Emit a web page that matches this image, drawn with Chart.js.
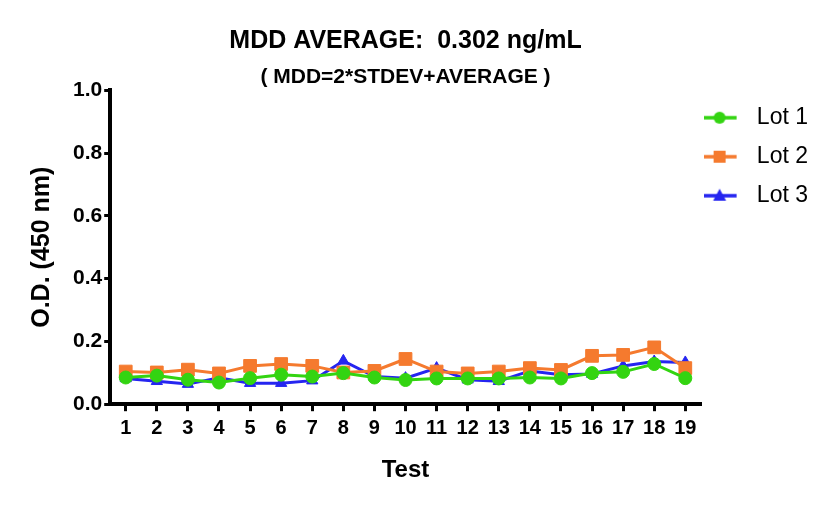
<!DOCTYPE html>
<html>
<head>
<meta charset="utf-8">
<script src="https://cdn.jsdelivr.net/npm/chart.js@4.4.1/dist/chart.umd.min.js"></script>
<style>
  html, body { margin: 0; padding: 0; background: #fff; }
  #wrap { width: 837px; height: 507px; }
</style>
</head>
<body>
<div id="wrap"><canvas id="chart"></canvas></div>
<script>
// x 축 : test 번호
const tests = ['1', '2', '3', '4', '5', '6', '7', '8', '9', '10', '11', '12', '13', '14', '15', '16', '17', '18', '19'];
// O.D. 값
const lot1 = [0.085, 0.091, 0.078, 0.069, 0.083, 0.094, 0.088, 0.099, 0.085, 0.077, 0.082, 0.082, 0.082, 0.085, 0.082, 0.099, 0.103, 0.128, 0.083];
const lot2 = [0.104, 0.101, 0.110, 0.098, 0.122, 0.128, 0.122, 0.101, 0.106, 0.144, 0.104, 0.098, 0.104, 0.115, 0.109, 0.154, 0.157, 0.181, 0.115];
const lot3 = [0.082, 0.073, 0.064, 0.084, 0.067, 0.067, 0.075, 0.138, 0.088, 0.083, 0.115, 0.078, 0.073, 0.106, 0.094, 0.096, 0.122, 0.136, 0.133];
const yTicks = [0, 0.2, 0.4, 0.6, 0.8, 1.0];

const green = '#33d411';
const orange = '#f57a2e';
const blue = '#2525f0';

Chart.defaults.font.family = '"Liberation Sans", Arial, sans-serif';
Chart.defaults.color = '#000';

// 범례 아이콘 : 선 + 마커 (오른쪽은 투명하게 비워둠)
function legendIcon(color, style) {
    const c = document.createElement('canvas');
    c.width = 55;
    c.height = 18;
    const g = c.getContext('2d');
    g.strokeStyle = color;
    g.fillStyle = color;
    g.lineWidth = 3.5;
    g.beginPath();
    g.moveTo(0, 9);
    g.lineTo(33, 9);
    g.stroke();
    const x = 16, y = 9;
    g.beginPath();
    if (style === 'circle') {
        g.arc(x, y, 6, 0, Math.PI * 2);
    } else if (style === 'rect') {
        g.rect(x - 6, y - 6, 12, 12);
    } else {
        g.moveTo(x, y - 7);
        g.lineTo(x + 6.5, y + 5);
        g.lineTo(x - 6.5, y + 5);
        g.closePath();
    }
    g.fill();
    return c;
}

const icons = [legendIcon(green, 'circle'), legendIcon(orange, 'rect'), legendIcon(blue, 'triangle')];

const ctx = document.getElementById('chart').getContext('2d');

const chart = new Chart(ctx, {
    type: 'line',
    data: {
        labels: tests,
        datasets: [
            {
                label: 'Lot 1',
                data: lot1,
                borderColor: green,
                backgroundColor: green,
                borderWidth: 3,
                pointStyle: 'circle',
                pointRadius: 6.5,
                pointBorderWidth: 1,
                tension: 0
            },
            {
                label: 'Lot 2',
                data: lot2,
                borderColor: orange,
                backgroundColor: orange,
                borderWidth: 3,
                pointStyle: 'rect',
                pointRadius: 9,
                pointBorderWidth: 1,
                tension: 0
            },
            {
                label: 'Lot 3',
                data: lot3,
                borderColor: blue,
                backgroundColor: blue,
                borderWidth: 3,
                pointStyle: 'triangle',
                pointRadius: 6.5,
                pointBorderWidth: 1,
                tension: 0
            }
        ]
    },
    options: {
        responsive: true,
        maintainAspectRatio: false,
        animation: false,
        layout: {
            padding: { left: 27, right: 19, top: 0, bottom: 22 }
        },
        plugins: {
            title: {
                display: true,
                text: 'MDD AVERAGE:  0.302 ng/mL',
                fullSize: false,
                color: '#000',
                font: { size: 25, weight: 'bold' },
                padding: { top: 26, bottom: 0 }
            },
            subtitle: {
                display: true,
                text: '( MDD=2*STDEV+AVERAGE )',
                fullSize: false,
                color: '#000',
                font: { size: 21, weight: 'bold' },
                padding: { top: 9, bottom: 0 }
            },
            legend: {
                position: 'right',
                align: 'start',
                fullSize: false,
                labels: {
                    usePointStyle: true,
                    pointStyleWidth: 28.5,
                    padding: 16,
                    color: '#000',
                    font: { size: 23 },
                    generateLabels: chart => chart.data.datasets.map((ds, i) => ({
                        text: ds.label,
                        pointStyle: icons[i],
                        fillStyle: 'transparent',
                        strokeStyle: 'transparent',
                        lineWidth: 0,
                        hidden: false,
                        datasetIndex: i,
                        fontColor: '#000'
                    }))
                }
            },
            tooltip: { enabled: false }
        },
        scales: {
            x: {
                type: 'category',
                offset: true,
                grid: {
                    display: true,
                    drawOnChartArea: false,
                    drawTicks: true,
                    tickLength: 7,
                    lineWidth: 3,
                    color: '#000',
                    offset: false
                },
                border: { display: true, width: 4, color: '#000' },
                ticks: {
                    color: '#000',
                    font: { size: 20, weight: 'bold' },
                    padding: 5,
                    maxRotation: 0,
                    autoSkip: false
                },
                title: {
                    display: true,
                    text: 'Test',
                    color: '#000',
                    font: { size: 24, weight: 'bold' },
                    padding: { top: 11, bottom: 0 }
                }
            },
            y: {
                min: 0,
                max: 1,
                afterBuildTicks: axis => {
                    axis.ticks = yTicks.map(v => ({ value: v }));
                },
                grid: {
                    display: true,
                    drawOnChartArea: false,
                    drawTicks: true,
                    tickLength: 6,
                    lineWidth: 3,
                    color: '#000'
                },
                border: { display: true, width: 4, color: '#000' },
                ticks: {
                    color: '#000',
                    font: { size: 21, weight: 'bold' },
                    padding: 2,
                    callback: v => Number(v).toFixed(1)
                },
                title: {
                    display: true,
                    text: 'O.D. (450 nm)',
                    color: '#000',
                    font: { size: 25, weight: 'bold' },
                    padding: { top: 0, bottom: 14 }
                }
            }
        }
    }
});
</script>
</body>
</html>
